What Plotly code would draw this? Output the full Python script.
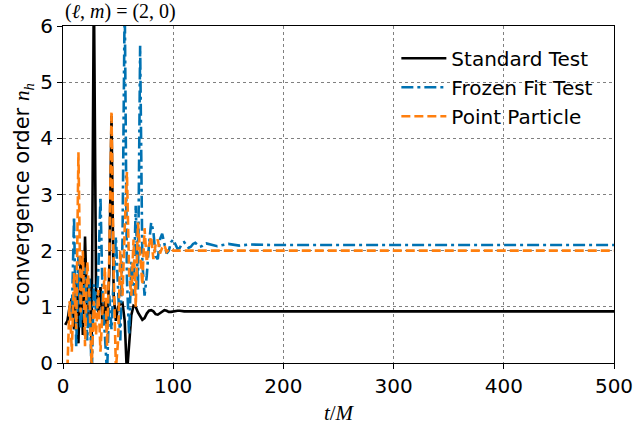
import plotly.graph_objects as go

t_early = list(range(2, 132, 2))
t_tail = [140, 150, 160, 170, 180, 190, 200, 250, 300, 350, 400, 450, 500]
t = t_early + t_tail

standard = [0.68, 0.75, 1.0, 1.15, 0.6, 1.5, 0.35, 1.9, 0.5, 2.25,
            0.8, 1.5, 0.3, 6.8, 1.3, 0.9, 1.35, 0.7, 1.1, 0.6,
            1.6, 4.4, 1.2, 0.75, 1.0, 1.05, 1.07, 0.75, -0.2, 0.25,
            0.85, 1.02, 1.0, 0.9, 0.82, 0.77, 0.8, 0.88, 0.93, 0.94,
            0.92, 0.87, 0.86, 0.89, 0.92, 0.94, 0.93, 0.91, 0.91, 0.92,
            0.93, 0.93, 0.93, 0.92, 0.92, 0.92, 0.92, 0.92, 0.92, 0.92,
            0.92, 0.92, 0.92, 0.92, 0.92,
            0.92, 0.92, 0.92, 0.92, 0.92, 0.92, 0.92, 0.92, 0.92, 0.92, 0.92, 0.92, 0.92]

frozen = [None, None, 1.0, 0.8, 2.6, 0.3, 1.9, 0.6, 1.2, 1.7,
          0.4, 1.5, -0.3, 1.4, 0.9, 1.6, 2.95, 1.1, 0.5, -0.2,
          1.2, 0.6, 1.5, 2.25, 1.3, 0.4, 2.2, 6.5, 1.5, 0.5,
          1.8, 1.2, 2.8, 1.3, 5.65, 1.8, 1.2, 1.55, 2.1, 2.5,
          2.35, 1.9, 1.85, 2.2, 2.3, 2.1, 1.95, 2.0, 2.15, 2.2,
          2.1, 2.03, 2.05, 2.13, 2.15, 2.1, 2.05, 2.07, 2.12, 2.14,
          2.11, 2.07, 2.08, 2.12, 2.13,
          2.08, 2.12, 2.09, 2.11, 2.1, 2.1, 2.1, 2.1, 2.1, 2.1, 2.1, 2.1, 2.1]

point = [None, -0.1, 1.1, 0.2, 1.6, 0.6, 3.75, 0.9, 2.0, 0.3,
         1.8, 1.2, -0.1, 1.1, 0.5, 1.3, 0.2, 1.0, 1.7, 0.3,
         1.9, 4.48, 1.6, -0.1, 0.4, 2.0, 1.2, 2.4, 3.4, 1.6,
         1.2, 2.2, 1.0, 2.5, 1.9, 1.4, 2.4, 1.8, 2.1, 2.25,
         1.85, 2.1, 2.2, 1.95, 2.05, 2.1, 1.98, 2.02, 2.03, 2.0,
         2.0, 2.0, 2.0, 2.0, 2.0, 2.0, 2.0, 2.0, 2.0, 2.0,
         2.0, 2.0, 2.0, 2.0, 2.0,
         2.0, 2.0, 2.0, 2.0, 2.0, 2.0, 2.0, 2.0, 2.0, 2.0, 2.0, 2.0, 2.0]

x_ticks = [0, 100, 200, 300, 400, 500]
y_ticks = [0, 1, 2, 3, 4, 5, 6]

SANS = "DejaVu Sans"
SERIF = "Liberation Serif"

fig = go.Figure()
fig.add_trace(go.Scatter(x=t, y=standard, mode="lines", name="Standard Test",
                         legendgroup="a",
                         line=dict(color="black", width=2.6)))
fig.add_trace(go.Scatter(x=t, y=frozen, mode="lines", name="Frozen Fit Test",
                         legendgroup="b",
                         line=dict(color="#0072B2", width=2.6, dash="12px,4px,3px,4px")))
fig.add_trace(go.Scatter(x=t, y=point, mode="lines", name="Point Particle",
                         legendgroup="c",
                         line=dict(color="#FF7F0E", width=2.6, dash="9px,4px")))

axis_common = dict(
    showline=True, linecolor="black", linewidth=1.2, mirror=True,
    ticks="outside", ticklen=5, tickwidth=1, tickcolor="black",
    showgrid=True, gridcolor="#808080", gridwidth=0.8, griddash="dot",
    zeroline=False, automargin=False,
    tickfont=dict(family=SANS, size=20, color="black"),
)

fig.update_layout(
    width=634, height=429,
    margin=dict(l=63, r=20, t=26, b=66),
    paper_bgcolor="white", plot_bgcolor="white",
    xaxis=dict(range=[0, 500], tickvals=x_ticks,
               title=dict(text="<i>t</i>/<i>M</i>", font=dict(family=SERIF, size=21, color="black"), standoff=8),
               **axis_common),
    yaxis=dict(range=[0, 6], tickvals=y_ticks,
               title=dict(text="convergence order <span style='font-family:Liberation Serif'><i>n<sub>h</sub></i></span>",
                          font=dict(family=SANS, size=21, color="black"), standoff=4),
               **axis_common),
    legend=dict(x=0.605, y=0.962, xanchor="left", yanchor="top",
                bgcolor="rgba(0,0,0,0)", borderwidth=0,
                font=dict(family=SANS, size=20, color="black"),
                traceorder="grouped", tracegroupgap=0, itemwidth=45),
    showlegend=True,
    annotations=[dict(text="(<i>ℓ</i>, <i>m</i>) = (2, 0)", xref="paper", yref="paper",
                      x=0.0, y=1.0, xanchor="left", yanchor="bottom", yshift=1,
                      showarrow=False, font=dict(family=SERIF, size=20, color="black"))],
)

# remove the default page margin so the figure fills the window exactly
fig.write_html("out.html", config={"displayModeBar": False},
               post_script="document.body.style.margin='0';")
